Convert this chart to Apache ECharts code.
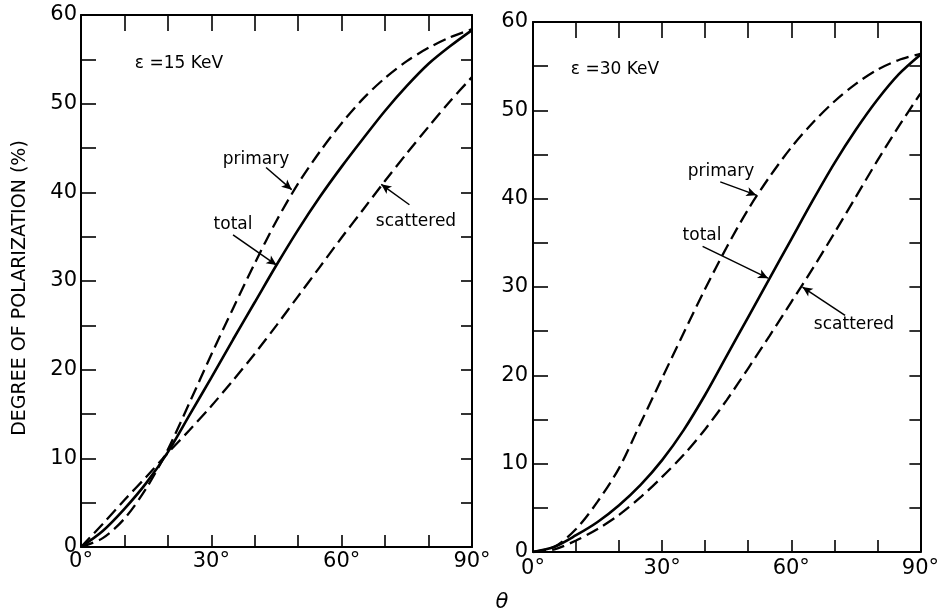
<!DOCTYPE html>
<html>
<head>
<meta charset="utf-8">
<script src="https://cdn.jsdelivr.net/npm/echarts@6/dist/echarts.min.js"></script>
<style>
  html, body { margin: 0; padding: 0; background: #fff; }
  #chart { width: 942px; height: 614px; }
</style>
</head>
<body>
<div id="chart"></div>
<script>
// ---- data ----
const angles = [0, 5, 10, 15, 20, 25, 30, 35, 40, 45, 50, 55, 60, 65, 70, 75, 80, 85, 90];

// epsilon = 15 KeV
const primary15   = [0, 1.0, 3.2, 6.6, 11.0, 16.3, 21.7, 26.9, 32.0, 36.8, 41.0, 44.6, 47.8, 50.6, 52.9, 54.8, 56.3, 57.5, 58.4];
const total15     = [0, 1.8, 4.3, 7.2, 10.7, 14.9, 19.1, 23.4, 27.6, 31.8, 35.8, 39.5, 42.9, 46.1, 49.2, 52.0, 54.5, 56.5, 58.3];
const scattered15 = [0, 2.6, 5.3, 7.9, 10.6, 13.2, 15.9, 18.8, 21.8, 25.0, 28.3, 31.6, 34.9, 38.1, 41.3, 44.4, 47.4, 50.3, 53.0];

// epsilon = 30 KeV
const primary30   = [0, 0.6, 2.6, 5.7, 9.5, 14.6, 19.7, 24.8, 29.8, 34.5, 38.8, 42.5, 45.8, 48.6, 51.0, 53.0, 54.6, 55.7, 56.4];
const total30     = [0, 0.6, 1.9, 3.4, 5.3, 7.6, 10.4, 13.8, 17.8, 22.2, 26.6, 31.0, 35.4, 39.8, 44.0, 47.8, 51.2, 54.1, 56.3];
const scattered30 = [0, 0.3, 1.3, 2.6, 4.2, 6.2, 8.5, 11.0, 13.9, 17.2, 20.8, 24.5, 28.3, 32.1, 36.1, 40.2, 44.3, 48.2, 51.9];

// tick labels
const xTickValues = [0, 30, 60, 90];
const xTickLabels = ['0°', '30°', '60°', '90°'];
const yTickValues = [0, 10, 20, 30, 40, 50, 60];
const yTickLabels = ['0', '10', '20', '30', '40', '50', '60'];

// annotation arrows (tail -> head), in data units [angle, %]
const arrows15 = [
  [[42.6, 42.8], [48.5, 40.3]],
  [[35.0, 35.2], [45.0, 31.8]],
  [[75.6, 38.6], [69.1, 40.9]]
];
const arrows30 = [
  [[43.5, 41.9], [51.9, 40.4]],
  [[39.4, 34.6], [54.6, 31.0]],
  [[72.5, 26.8], [62.6, 30.0]]
];

// ---- chart ----
const FONT = "'DejaVu Sans', sans-serif";
const pair = (ys) => angles.map((a, i) => [a, ys[i]]);
const xFmt = (v) => { const i = xTickValues.indexOf(v); return i >= 0 ? xTickLabels[i] : ''; };
const yFmt = (v) => { const i = yTickValues.indexOf(v); return i >= 0 ? yTickLabels[i] : ''; };

function xAx(g, pos, tickLen, showLabel, margin) {
  return {
    gridIndex: g, type: 'value', min: 0, max: 90, interval: 10, position: pos,
    axisLine: { show: true, onZero: false, lineStyle: { color: '#000', width: 2 } },
    axisTick: { show: true, inside: true, length: tickLen, lineStyle: { color: '#000', width: 1.6 } },
    axisLabel: { show: showLabel, margin: margin, color: '#000', fontSize: 21, fontFamily: FONT, formatter: xFmt },
    splitLine: { show: false }
  };
}
function yAx(g, pos, tickLen, showLabel, margin) {
  return {
    gridIndex: g, type: 'value', min: 0, max: 60, interval: 5, position: pos,
    axisLine: { show: true, onZero: false, lineStyle: { color: '#000', width: 2 } },
    axisTick: { show: true, inside: true, length: tickLen, lineStyle: { color: '#000', width: 1.6 } },
    axisLabel: { show: showLabel, margin: margin, color: '#000', fontSize: 21, fontFamily: FONT, formatter: yFmt },
    splitLine: { show: false }
  };
}
function curve(name, ys, xi, yi, dashed, arrows) {
  const s = {
    name: name, type: 'line', xAxisIndex: xi, yAxisIndex: yi,
    data: pair(ys), smooth: 0.3, symbol: 'none', silent: true,
    lineStyle: { color: '#000', width: dashed ? 2.3 : 2.6, type: dashed ? [13, 6] : 'solid' }
  };
  if (arrows) {
    s.markLine = {
      silent: true, symbol: ['none', 'arrow'], symbolSize: [7, 10], precision: 3,
      lineStyle: { color: '#000', width: 1.5, type: 'solid' },
      label: { show: false },
      data: arrows.map(a => [{ coord: a[0] }, { coord: a[1] }])
    };
  }
  return s;
}
function txt(text, x, y, size, extra) {
  return {
    type: 'text', x: x, y: y, silent: true,
    style: Object.assign({ text: text, fill: '#000', font: size + 'px ' + FONT, align: 'center', verticalAlign: 'middle' }, extra || {})
  };
}

const chart = echarts.init(document.getElementById('chart'));
chart.setOption({
  animation: false,
  backgroundColor: '#fff',
  grid: [
    { left: 81, top: 15, width: 391, height: 532 },
    { left: 533, top: 22, width: 393, height: 530 }
  ],
  xAxis: [
    xAx(0, 'bottom', 12, true, 4),
    xAx(0, 'top', 16, false, 4),
    xAx(1, 'bottom', 12, true, 6),
    xAx(1, 'top', 16, false, 4)
  ],
  yAxis: [
    yAx(0, 'left', 15, true, 4),
    yAx(0, 'right', 11, false, 4),
    yAx(1, 'left', 15, true, 5),
    yAx(1, 'right', 11, false, 4)
  ],
  series: [
    curve('primary', primary15, 0, 0, true, null),
    curve('total', total15, 0, 0, false, arrows15),
    curve('scattered', scattered15, 0, 0, true, null),
    curve('primary', primary30, 2, 2, true, null),
    curve('total', total30, 2, 2, false, arrows30),
    curve('scattered', scattered30, 2, 2, true, null)
  ],
  graphic: [
    Object.assign(txt('DEGREE OF POLARIZATION (%)', 20, 288, 19), { rotation: Math.PI / 2 }),
    txt('θ', 502, 603, 21, { font: 'italic 21px ' + FONT }),
    txt('ε =15 KeV', 179, 64, 17),
    txt('primary', 256, 160, 17),
    txt('total', 233, 225, 17),
    txt('scattered', 416, 222, 17),
    txt('ε =30 KeV', 615, 70, 17),
    txt('primary', 721, 172, 17),
    txt('total', 702, 236, 17),
    txt('scattered', 854, 325, 17)
  ]
});
</script>
</body>
</html>
